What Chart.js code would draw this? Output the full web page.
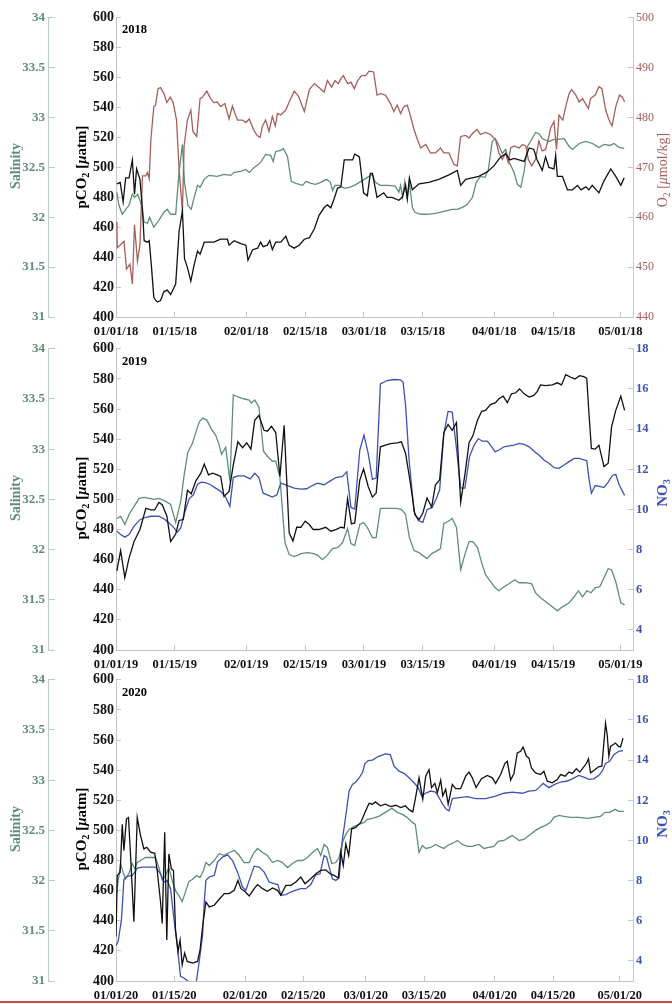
<!DOCTYPE html>
<html>
<head>
<meta charset="utf-8">
<script src="https://cdn.jsdelivr.net/npm/chart.js@4"></script>
<style>
  html, body { margin: 0; padding: 0; background: #fff; }
  body { width: 672px; height: 1004px; position: relative; overflow: hidden; font-family: "Liberation Serif", "Times New Roman", serif; }
  canvas { position: absolute; left: 0; }
  .lab { position: absolute; white-space: nowrap; transform: translate(-50%, -50%) rotate(-90deg); }
  .year { position: absolute; font-weight: bold; font-size: 12.5px; line-height: 14px; }
  sub { font-size: 0.68em; vertical-align: -0.35em; line-height: 0; }
  .rule { position: absolute; left: 0; top: 1001px; width: 672px; height: 2px; background: #c94a44; }
</style>
</head>
<body>
<canvas id="c2018" width="672" height="347" style="top:0px"></canvas>
<canvas id="c2019" width="672" height="349" style="top:331px"></canvas>
<canvas id="c2020" width="672" height="349" style="top:662px"></canvas>

<div class="year" style="left:122px; top:22px">2018</div>
<div class="year" style="left:122px; top:354px">2019</div>
<div class="year" style="left:122px; top:685px">2020</div>

<div class="lab" style="left:16px; top:166px; color:#5e8e78; font-weight:bold; font-size:14px">Salinity</div>
<div class="lab" style="left:81px; top:167px; font-weight:bold; font-size:15px">pCO<sub>2</sub> [<i>μ</i>atm]</div>
<div class="lab" style="left:663px; top:170px; color:#a65f5b; font-size:14px">O<sub>2</sub> [<i>μ</i>mol/kg]</div>

<div class="lab" style="left:16px; top:498px; color:#5e8e78; font-weight:bold; font-size:14px">Salinity</div>
<div class="lab" style="left:81px; top:498px; font-weight:bold; font-size:15px">pCO<sub>2</sub> [<i>μ</i>atm]</div>
<div class="lab" style="left:662px; top:493px; color:#3d52b3; font-weight:bold; font-size:15px">NO<sub>3</sub></div>

<div class="lab" style="left:16px; top:829px; color:#5e8e78; font-weight:bold; font-size:14px">Salinity</div>
<div class="lab" style="left:81px; top:829px; font-weight:bold; font-size:15px">pCO<sub>2</sub> [<i>μ</i>atm]</div>
<div class="lab" style="left:662px; top:824px; color:#3d52b3; font-weight:bold; font-size:15px">NO<sub>3</sub></div>

<div class="rule"></div>

<script>
// x positions are days since Jan 1 of each year
const tickDays1819 = [0, 14, 31, 45, 59, 73, 90, 104, 120];
const tickDays20 = [0, 14, 31, 45, 60, 74, 91, 105, 121];
const tickLabels18 = ['01/01/18', '01/15/18', '02/01/18', '02/15/18', '03/01/18', '03/15/18', '04/01/18', '04/15/18', '05/01/18'];
const tickLabels19 = ['01/01/19', '01/15/19', '02/01/19', '02/15/19', '03/01/19', '03/15/19', '04/01/19', '04/15/19', '05/01/19'];
const tickLabels20 = ['01/01/20', '01/15/20', '02/01/20', '02/15/20', '03/01/20', '03/15/20', '04/01/20', '04/15/20', '05/01/20'];
const no3Ticks = [4, 6, 8, 10, 12, 14, 16, 18];

// ---- 2018 ----
const pco2_2018 = [[0.2,489],[1.0,490],[1.7,477],[2.3,493],[3.1,493],[3.9,505],[4.4,482],[4.9,499],[5.7,492],[6.3,472],[6.7,451],[7.5,450],[7.9,451],[8.4,435],[9.0,413],[9.8,410],[10.6,411],[11.4,417],[12.2,418],[13.0,415],[14.2,422],[15.0,457],[15.8,471],[16.3,439],[17.0,433],[17.8,424],[18.6,435],[19.4,444],[20.0,442],[21.0,450],[22.1,450],[23.3,450],[24.9,452],[26.5,452],[26.9,448],[28.1,451],[29.7,449],[30.9,448],[31.4,438],[32.5,445],[33.7,446],[34.4,450],[35.0,447],[36.0,448],[36.6,451],[37.2,445],[38.0,450],[39.2,450],[40.4,454],[41.2,448],[42.4,446],[43.6,448],[44.8,452],[46.0,453],[47.2,459],[48.3,468],[49.5,473],[50.3,475],[51.1,473],[51.9,479],[52.7,486],[53.5,487],[54.3,505],[55.5,505],[56.3,505],[56.8,509],[57.9,507],[58.9,483],[59.8,481],[60.5,496],[61.0,496],[62.1,480],[63.7,483],[64.5,480],[65.7,480],[67.3,478],[68.1,480],[68.9,488],[69.3,479],[69.8,493],[70.5,485],[72.1,489],[74.4,490],[76.8,492],[79.2,495],[81.2,498],[82.0,488],[83.2,492],[86.3,494],[88.3,497],[89.9,501],[91.5,507],[92.7,509],[93.7,505],[94.7,506],[95.9,505],[97.1,504],[98.3,513],[99.4,512],[100.2,505],[101.4,498],[102.2,507],[103.0,500],[104.2,499],[104.6,508],[105.0,494],[106.2,494],[107.4,485],[108.6,485],[109.8,488],[110.6,485],[111.8,487],[112.5,485],[113.3,488],[114.9,483],[116.1,491],[117.7,499],[118.9,494],[120.1,488],[120.9,493]];
const o2_2018 = [[0.2,459.1],[0.3,453.9],[1.1,454.5],[1.9,455.2],[2.5,449.6],[3.3,450.6],[3.9,446.6],[4.4,458.5],[5.1,451.2],[5.7,454.5],[6.3,468.3],[7.1,468.3],[7.5,469],[7.9,467.7],[8.3,475.6],[9.0,482.2],[9.4,482.5],[10.0,485.8],[10.6,486],[11.4,484.8],[12.1,483],[12.9,484.1],[13.6,483],[14.4,479.5],[15.0,469.7],[15.8,461.1],[16.2,474.3],[17.0,479.5],[17.8,481.5],[18.3,477.2],[19.2,476.2],[20.0,483.8],[20.6,484.1],[21.6,485.3],[22.5,483.8],[23.3,483],[24.1,483.1],[24.9,482.2],[25.9,482.8],[26.9,479.7],[27.7,482.3],[28.3,480.8],[28.9,479.5],[30.1,479.5],[30.9,479],[31.7,479.7],[32.7,477.6],[33.6,476.4],[34.3,476],[34.8,478.2],[35.6,479.5],[36.4,477.2],[37.2,480.2],[37.9,478.3],[38.4,480.8],[39.2,480.5],[40.4,481.5],[41.2,483.1],[42.4,485.3],[43.4,484.3],[44.8,481.2],[46.0,485.6],[47.2,486.8],[48.3,486],[49.5,485.1],[50.3,487.4],[51.3,486.1],[52.1,487.4],[52.9,486.8],[53.5,487.8],[54.1,488.4],[55.1,486.8],[55.9,487.1],[56.7,485.8],[57.5,487.4],[58.4,488.4],[59.4,488.4],[60.2,489.3],[61.0,489.2],[61.3,489.1],[62.1,484.5],[62.9,484.8],[64.1,484.5],[65.3,482.8],[66.1,481.2],[66.9,482.5],[67.7,480.8],[68.5,482.2],[69.3,482.5],[70.1,480.2],[70.9,477.6],[71.7,475.6],[72.5,473.9],[73.7,474.6],[74.8,472.9],[76.0,472.9],[77.2,473.9],[78.0,472.9],[79.2,472.9],[80.4,470.6],[81.2,470.3],[82.0,476.2],[83.2,476.4],[84.0,475.9],[84.8,476.8],[85.9,477.6],[86.7,476.6],[87.9,477],[89.1,476.6],[90.3,475.6],[91.1,472.9],[91.9,471.6],[92.7,472.9],[93.3,471],[93.9,473.9],[94.7,474.3],[95.9,473.9],[96.7,474.6],[97.5,474.3],[98.1,471.6],[98.9,470.3],[99.8,471.6],[100.6,475.3],[101.4,473.3],[102.2,473.6],[102.9,475.9],[103.4,477.9],[104.2,479.2],[104.8,473.6],[105.4,480.5],[106.3,479.5],[107.0,482.2],[107.8,484.8],[108.4,485.6],[109.4,484.5],[110.2,483.1],[111.0,483.8],[111.7,482.8],[112.4,481.8],[112.9,483.8],[114.0,484.5],[114.9,486.2],[115.6,485.8],[116.5,481.5],[117.3,479.5],[118.0,478.3],[118.9,482.2],[119.8,484.5],[120.5,484.1],[121.0,483.1]];
const sal_2018 = [[0.2,32.25],[0.7,32.12],[1.5,32.03],[2.3,32.08],[3.1,32.12],[3.9,32.23],[4.4,32.20],[5.2,32.23],[6.0,32.13],[6.7,31.95],[7.5,31.94],[8.0,32.00],[9.0,31.90],[10.2,31.97],[11.4,32.05],[12.2,32.08],[13.0,32.03],[14.2,32.03],[15.0,32.45],[15.8,32.73],[16.3,32.35],[17.1,32.12],[17.9,32.08],[18.6,32.20],[19.4,32.32],[20.0,32.30],[21.0,32.38],[22.1,32.42],[24.1,32.41],[25.7,32.43],[27.3,32.42],[28.1,32.45],[29.7,32.46],[30.9,32.48],[31.7,32.45],[32.9,32.50],[34.4,32.55],[35.6,32.63],[36.8,32.62],[37.4,32.56],[38.0,32.66],[39.2,32.67],[39.8,32.69],[40.8,32.61],[41.7,32.36],[42.8,32.34],[44.4,32.32],[45.2,32.36],[46.4,32.34],[47.5,32.33],[48.7,32.35],[50.1,32.38],[51.0,32.35],[51.5,32.27],[52.1,32.32],[53.1,32.32],[54.3,32.29],[55.5,32.30],[56.7,32.32],[58.3,32.36],[59.8,32.40],[61.0,32.43],[61.7,32.35],[62.9,32.32],[64.9,32.32],[66.5,32.31],[67.3,32.25],[67.7,32.32],[68.2,32.20],[68.7,32.36],[69.3,32.19],[69.8,32.35],[70.5,32.10],[71.1,32.05],[72.5,32.03],[74.0,32.03],[76.0,32.04],[78.0,32.06],[80.0,32.08],[81.2,32.08],[82.4,32.10],[83.6,32.13],[84.8,32.20],[85.7,32.35],[86.7,32.41],[87.8,32.40],[88.6,32.48],[89.5,32.76],[90.2,32.79],[91.0,32.73],[91.9,32.64],[92.7,32.68],[93.5,32.56],[94.7,32.45],[95.5,32.33],[96.3,32.30],[97.1,32.46],[97.9,32.71],[98.9,32.78],[99.8,32.85],[100.6,32.84],[101.4,32.79],[103.0,32.76],[104.2,32.78],[105.4,32.78],[106.6,32.79],[107.8,32.71],[108.6,32.68],[110.2,32.74],[111.7,32.76],[113.3,32.74],[114.9,32.70],[116.1,32.73],[117.5,32.72],[118.5,32.74],[119.7,32.70],[120.9,32.69]];

// ---- 2019 ----
const pco2_2019 = [[0.2,452.5],[1.1,466],[2.1,448],[3.1,461],[4.3,472],[5.7,480],[7.1,494],[8.3,493],[9.2,493],[10.2,498],[11.0,496.5],[12.1,489],[13.0,472],[14.2,477],[15.0,486],[16.0,486.6],[17.0,506],[17.9,503.7],[19.0,512.3],[20.2,517.4],[21.0,523.5],[22.0,516.3],[23.0,517.4],[24.1,516.3],[24.9,515.2],[25.7,502],[26.9,505.3],[27.9,522.9],[29.0,538.2],[30.1,534.3],[31.1,537.6],[32.1,533.4],[33.0,552.5],[34.0,555.8],[35.2,545.9],[36.0,545.3],[37.0,548.6],[38.0,544.4],[39.0,515.2],[40.0,549.2],[41.2,477.8],[42.1,472.3],[43.0,481.5],[44.0,481.5],[45.0,485.5],[46.0,483.3],[46.9,480],[48.3,480],[49.9,481.5],[51.1,478.9],[52.3,480],[53.5,481.5],[54.3,481.1],[55.1,500.4],[56.0,483.7],[56.8,484.4],[58.0,513],[58.9,520.2],[60.0,508.6],[61.0,501.5],[61.9,504.2],[62.9,534.9],[64.1,536],[65.3,537.1],[66.9,537.6],[67.9,538.2],[68.9,530.5],[70.1,509.7],[71.1,489.9],[72.1,486.6],[73.0,491],[74.0,500.9],[75.1,494.9],[76.0,509.7],[77.0,513],[78.0,544.4],[79.0,549.7],[80.0,545.9],[81.0,551],[82.0,498.2],[83.0,516.3],[84.0,537.6],[84.9,542.2],[86.0,552.5],[87.0,558.5],[87.9,559.1],[89.1,562.9],[90.3,564.2],[91.1,566.8],[92.1,568.6],[93.1,564.2],[94.1,570.1],[95.1,570.8],[96.0,573.4],[97.1,570.1],[98.3,567.9],[99.4,569],[100.2,571.6],[101.0,576],[102.2,575.6],[103.8,576],[105.0,577.4],[106.0,576],[107.0,582.9],[108.2,581.1],[109.2,580],[110.3,582.2],[111.3,581.5],[112.0,580.4],[112.5,558],[113.1,533.8],[114.0,533.4],[114.9,536],[116.1,521.8],[117.1,524],[117.9,548.1],[118.9,559.1],[120.1,568.6],[121.0,559.1]];
const no3_2019 = [[0.2,8.92],[1.1,8.75],[2.1,8.62],[3.1,8.75],[4.3,9.17],[5.7,9.49],[7.1,9.61],[8.3,9.66],[10.2,9.66],[11.4,9.54],[12.6,9.33],[13.8,9.08],[14.6,8.87],[15.4,9.08],[16.3,9.82],[17.4,10.53],[18.4,10.73],[19.4,11.26],[20.3,11.36],[21.3,11.34],[22.5,11.23],[23.7,11.06],[24.9,10.9],[26.1,10.6],[27.1,10.15],[27.9,11.59],[29.0,11.67],[30.5,11.67],[31.9,11.52],[33.0,11.8],[34.0,11.59],[35.0,10.81],[36.0,10.73],[37.2,10.62],[38.3,10.73],[39.2,11.31],[40.8,11.19],[42.4,11.06],[44.0,11.01],[45.4,11.03],[46.7,11.19],[47.9,11.31],[49.5,11.23],[51.0,11.42],[52.3,11.59],[53.9,11.64],[54.9,11.88],[55.9,10.1],[56.8,10.02],[58.0,12.96],[59.0,13.7],[60.0,12.79],[61.0,11.5],[61.9,11.56],[62.9,16.25],[64.5,16.42],[66.1,16.47],[67.7,16.45],[68.3,16.34],[68.9,15.18],[69.7,12.54],[70.9,9.91],[71.9,9.45],[73.0,9.36],[74.0,9.99],[75.2,10.1],[76.2,10.53],[77.0,10.98],[78.0,13.78],[79.0,14.88],[80.0,14.85],[81.0,13.04],[82.0,11.06],[83.0,11.06],[84.1,12.63],[85.2,13.2],[86.2,13.53],[87.1,13.4],[88.3,13.4],[89.1,13.2],[90.2,12.87],[91.1,12.96],[92.3,13.12],[93.5,13.17],[94.7,13.2],[95.9,13.29],[97.1,13.24],[98.3,13.12],[99.4,12.91],[100.6,12.71],[101.8,12.46],[103.0,12.3],[104.2,12.08],[105.4,12.05],[106.6,12.21],[107.8,12.38],[109.0,12.54],[110.2,12.54],[112.0,12.43],[112.5,11.56],[113.1,10.81],[114.0,11.19],[115.3,11.14],[116.1,11.09],[117.1,11.36],[118.1,11.69],[118.9,11.75],[119.7,11.23],[120.5,10.9],[121.0,10.7]];
const sal_2019 = [[0.2,32.31],[1.1,32.33],[2.1,32.25],[3.1,32.35],[4.3,32.43],[5.5,32.51],[6.7,32.52],[7.9,32.51],[9.0,32.50],[10.2,32.51],[11.4,32.49],[13.0,32.45],[14.2,32.27],[15.4,32.48],[16.2,32.74],[17.1,32.97],[18.2,33.06],[19.0,33.17],[19.8,33.27],[20.6,33.31],[21.6,33.29],[22.7,33.2],[23.7,33.14],[24.5,33.05],[25.1,32.95],[26.1,33.02],[27.1,32.68],[27.9,33.54],[29.0,33.52],[30.5,33.5],[31.7,33.49],[32.2,33.46],[33.0,33.49],[34.0,33.42],[35.1,32.98],[36.0,32.93],[37.2,32.88],[38.0,32.88],[39.0,32.72],[40.2,32.07],[41.2,31.95],[42.4,31.93],[44.0,31.96],[45.6,31.97],[47.1,31.96],[48.1,31.94],[49.1,31.9],[50.2,31.94],[51.5,32.01],[52.7,32.02],[53.9,32.07],[55.1,32.21],[55.9,32.06],[56.8,32.04],[58.0,32.25],[58.9,32.27],[59.8,32.22],[61.0,32.12],[61.9,32.12],[62.9,32.41],[64.5,32.41],[66.5,32.41],[67.9,32.4],[68.9,32.35],[69.8,32.12],[70.9,31.99],[72.1,31.97],[73.0,31.94],[74.0,31.91],[75.1,31.96],[76.0,31.98],[77.2,32.01],[78.0,32.26],[79.0,32.28],[80.0,32.31],[81.0,32.22],[82.0,31.8],[83.0,31.95],[84.0,32.08],[84.9,32.08],[86.0,32.02],[87.0,31.87],[87.9,31.75],[89.1,31.68],[90.2,31.62],[91.1,31.59],[92.3,31.63],[93.5,31.66],[94.9,31.7],[95.9,31.67],[97.5,31.67],[98.9,31.66],[99.8,31.57],[101.0,31.52],[102.6,31.47],[103.8,31.43],[105.0,31.39],[106.2,31.43],[107.8,31.47],[109.0,31.53],[110.0,31.59],[111.0,31.53],[112.0,31.59],[113.0,31.57],[114.0,31.62],[115.1,31.63],[116.1,31.72],[117.1,31.81],[117.9,31.8],[118.9,31.68],[120.1,31.47],[121.0,31.45]];

// ---- 2020 ----
const pco2_2020 = [[0,429.5],[0.3,470],[1.0,472],[1.5,504],[1.9,486.6],[2.5,507.5],[3.0,508.6],[3.5,483.3],[4.3,439.3],[5.1,508.6],[5.9,496.5],[6.7,487.7],[7.4,488.8],[8.3,485.5],[9.3,484.8],[9.9,473.4],[10.7,452.5],[11.1,438.2],[11.7,498.7],[12.2,427.3],[12.7,484.4],[13.3,474.5],[13.8,473.4],[14.3,433.8],[14.9,419.6],[15.4,427.3],[15.9,410.8],[16.5,418.5],[17.1,413],[18.4,411.9],[19.6,413],[20.2,420.7],[20.8,436],[21.6,452.5],[22.4,449.2],[23.6,450.3],[24.8,454.3],[26.0,458],[27.2,458],[28.4,460.2],[29.3,466.8],[30.0,461.3],[30.9,459.6],[32.0,456.5],[33.2,461.3],[34.0,464],[35.2,461.3],[36.4,459.6],[37.6,461.8],[38.8,460.2],[39.6,456.9],[40.8,463.5],[42.0,463.5],[43.2,465.7],[44.4,469],[45.4,464.6],[46.8,467.9],[48.0,471.2],[49.2,473.4],[50.4,473.8],[51.4,471.2],[52.4,470.1],[53.4,468.4],[54.0,485.5],[54.6,476.7],[55.2,491],[55.9,483.3],[56.6,500.9],[57.6,502],[58.8,505.3],[59.8,511.9],[60.8,518],[61.6,517.4],[62.3,518.9],[63.5,516.3],[64.7,517.4],[66.0,515.8],[67.2,516.7],[68.4,515.2],[69.5,516.3],[70.5,513.6],[71.3,512.3],[71.9,520.7],[72.8,534.9],[73.7,520.7],[74.4,536],[75.2,540.4],[75.8,528.4],[76.6,531.2],[77.2,525.1],[78.0,533.4],[78.5,522.9],[79.2,527.3],[79.8,517.4],[80.8,530.5],[81.6,527.7],[82.8,527.7],[84.0,536],[84.8,538.7],[85.6,534.9],[86.5,528.4],[87.8,534.3],[89.2,536.5],[90.4,534.9],[91.2,531.2],[92.4,537.1],[93.4,544.4],[94.0,545.9],[94.8,533.4],[95.6,537.8],[96.4,551.4],[97.2,552.5],[97.8,555.4],[98.6,549.2],[99.2,548.1],[99.8,541.5],[100.8,538.2],[102.0,537.1],[102.8,539.3],[103.6,532.7],[104.8,531.6],[106.0,533.8],[106.8,537.1],[107.9,536],[108.8,538.7],[109.6,537.8],[110.6,540.9],[111.4,538.7],[112.2,541.5],[113.0,544.4],[113.5,547.5],[114.0,538.2],[114.8,539.8],[115.9,542.2],[116.7,542.6],[117.0,551.4],[117.6,571.2],[118.0,563.5],[118.4,549.2],[118.8,555.8],[119.4,556.9],[120.0,558],[120.7,555.8],[121.2,555.4],[121.8,561.3]];
const no3_2020 = [[0,4.76],[0.5,4.96],[1.3,6.03],[1.9,8.06],[2.7,8.21],[3.9,8.26],[4.5,8.42],[5.1,8.62],[6.3,8.67],[7.9,8.67],[9.5,8.67],[10.7,8.34],[11.5,7.93],[12.3,8.01],[13.1,7.6],[13.9,6.12],[14.7,4.8],[15.5,3.23],[16.3,3.15],[17.1,3.02],[17.9,2.9],[19.2,2.82],[20.0,3.97],[20.8,5.29],[21.2,6.94],[21.6,8.01],[22.4,8.18],[23.6,8.26],[24.4,8.92],[25.6,9.17],[26.8,9.28],[28.0,9.0],[29.2,8.42],[30.4,7.68],[31.2,7.52],[32.0,8.01],[33.2,8.72],[34.4,8.67],[35.6,8.42],[36.8,7.93],[38.0,7.85],[38.9,7.8],[39.6,7.27],[40.8,7.3],[42.0,7.43],[43.2,7.52],[44.4,7.6],[45.6,7.6],[46.8,7.8],[48.0,8.29],[49.0,8.34],[50.0,9.25],[50.6,9.17],[51.2,8.67],[52.0,8.09],[52.8,8.01],[53.6,8.13],[54.4,10.07],[55.2,11.23],[56.0,12.46],[56.8,12.79],[57.6,12.91],[58.4,13.12],[59.2,13.37],[59.8,13.83],[60.6,13.98],[61.6,14.0],[63.1,14.19],[64.7,14.31],[65.9,14.27],[66.8,13.7],[68.0,13.45],[69.2,13.34],[70.4,13.12],[71.6,12.87],[72.6,12.63],[73.4,12.21],[74.4,12.35],[75.6,12.46],[76.8,12.41],[77.6,12.13],[78.5,11.8],[79.3,11.56],[80.0,11.47],[80.8,12.08],[82.4,12.13],[84.4,12.18],[86.4,12.08],[88.8,12.08],[91.2,12.21],[93.2,12.35],[95.2,12.41],[97.6,12.35],[99.2,12.46],[100.8,12.49],[101.6,12.63],[102.6,12.84],[104.0,12.63],[105.4,12.79],[106.8,12.91],[108.4,12.96],[109.6,13.07],[111.2,13.24],[112.4,13.15],[113.6,13.04],[114.8,13.07],[116.0,13.24],[116.8,13.45],[117.6,13.83],[118.6,13.94],[119.6,14.27],[120.8,14.44],[121.8,14.47]];
const sal_2020 = [[0,31.84],[0.5,31.99],[1.1,32.17],[1.8,32.07],[2.3,32.02],[3.1,32.07],[3.9,32.17],[4.5,32.12],[5.1,32.18],[5.9,32.2],[7.1,32.23],[8.3,32.23],[9.5,32.23],[10.3,32.13],[11.1,32.01],[11.9,32.05],[12.7,32.13],[13.5,32.0],[14.3,31.9],[15.1,31.85],[15.9,31.79],[16.7,31.89],[17.5,31.99],[18.3,32.01],[19.4,32.05],[20.2,32.03],[21.0,32.1],[21.6,32.18],[22.4,32.15],[23.6,32.2],[24.8,32.27],[26.0,32.25],[27.2,32.28],[28.5,32.3],[29.6,32.25],[30.8,32.18],[32.0,32.18],[33.0,32.27],[34.0,32.32],[35.2,32.28],[36.4,32.25],[37.6,32.18],[38.8,32.2],[40.0,32.18],[41.2,32.13],[42.4,32.17],[43.6,32.2],[44.8,32.2],[46.0,32.23],[47.2,32.28],[48.4,32.32],[49.2,32.25],[50.0,32.36],[50.8,32.33],[51.8,32.17],[52.8,32.18],[53.6,32.23],[54.4,32.38],[55.2,32.46],[56.0,32.51],[57.2,32.54],[58.4,32.56],[59.6,32.58],[60.4,32.61],[61.6,32.62],[63.1,32.64],[64.7,32.68],[66.3,32.72],[67.6,32.68],[68.8,32.66],[69.9,32.63],[71.2,32.58],[71.9,32.56],[72.8,32.28],[73.6,32.35],[74.4,32.32],[75.6,32.33],[76.8,32.36],[77.6,32.34],[78.8,32.32],[79.6,32.35],[80.8,32.37],[82.0,32.4],[83.2,32.36],[84.4,32.34],[85.6,32.34],[87.2,32.36],[88.4,32.32],[89.6,32.33],[90.8,32.34],[91.8,32.39],[93.2,32.4],[94.4,32.43],[95.2,32.45],[96.8,32.4],[98.0,32.41],[99.2,32.45],[100.8,32.5],[102.0,32.53],[103.2,32.55],[104.4,32.58],[105.2,32.63],[106.4,32.65],[107.6,32.64],[109.2,32.63],[111.2,32.63],[113.2,32.62],[114.8,32.63],[116.4,32.64],[117.5,32.68],[118.6,32.68],[119.9,32.71],[120.8,32.69],[122.0,32.69]];

const SAL_COLOR = '#5e8e78';
const O2_COLOR = '#a65f5b';
const NO3_COLOR = '#3d52b3';
const serif = '"Liberation Serif", "Times New Roman", serif';

function pts(arr) {
  return arr.map(([x, y]) => ({ x, y }));
}

function line(data, color, axis) {
  return {
    data: pts(data), borderColor: color, borderWidth: 1.3,
    pointRadius: 0, tension: 0, yAxisID: axis, fill: false
  };
}

function makePanel(id, opts) {
  const scales = {
    x: {
      type: 'linear', min: 0, max: opts.xMax,
      afterBuildTicks: s => { s.ticks = opts.tickDays.map(v => ({ value: v })); },
      afterFit: s => { s.height = 30; },
      grid: { drawOnChartArea: false, tickLength: -5, color: '#c4c4c4' },
      border: { color: '#c4c4c4' },
      ticks: {
        autoSkip: false, maxRotation: 0, padding: 12, color: '#111',
        font: { family: serif, size: 12.5, weight: 'bold' },
        callback: (v, i) => opts.tickLabels[i]
      }
    },
    ySal: {
      position: 'left', weight: 1, min: 31, max: 34,
      afterFit: s => { s.width = 48; },
      grid: { drawOnChartArea: false, tickLength: -7, color: '#bccdc4' },
      border: { color: '#bccdc4' },
      ticks: { stepSize: 0.5, padding: 10, color: SAL_COLOR, font: { family: serif, size: 13, weight: 'bold' }, callback: v => String(v) }
    },
    yCO2: {
      position: 'left', weight: 0, min: 400, max: 600,
      afterFit: s => { s.width = 68; },
      grid: { drawOnChartArea: false, tickLength: -5, color: '#c4c4c4' },
      border: { color: '#c4c4c4' },
      ticks: { stepSize: 20, padding: 7, color: '#111', font: { family: serif, size: 14, weight: 'bold' } }
    }
  };
  if (opts.o2) {
    scales.yR = {
      position: 'right', min: 440, max: 500,
      afterFit: s => { s.width = 39; },
      grid: { drawOnChartArea: false, tickLength: -5, color: '#dcc3c2' },
      border: { color: '#dcc3c2' },
      ticks: { stepSize: 10, padding: 8, color: O2_COLOR, font: { family: serif, size: 12 } }
    };
  } else {
    scales.yR = {
      position: 'right', min: 3, max: 18,
      afterBuildTicks: s => { s.ticks = no3Ticks.map(v => ({ value: v })); },
      afterFit: s => { s.width = 39; },
      grid: { drawOnChartArea: false, tickLength: -5, color: '#c3c7e6' },
      border: { color: '#c3c7e6' },
      ticks: { padding: 8, color: NO3_COLOR, font: { family: serif, size: 12.5, weight: 'bold' } }
    };
  }

  new Chart(document.getElementById(id), {
    type: 'line',
    data: {
      datasets: [
        line(opts.pco2, '#111111', 'yCO2'),
        line(opts.right, opts.o2 ? O2_COLOR : NO3_COLOR, 'yR'),
        line(opts.sal, SAL_COLOR, 'ySal')
      ]
    },
    options: {
      responsive: false, animation: false, devicePixelRatio: 1,
      layout: { padding: { top: 15, left: 0, right: 0, bottom: 0 } },
      plugins: { legend: { display: false }, tooltip: { enabled: false } },
      scales
    }
  });
}

makePanel('c2018', { xMax: 123, tickDays: tickDays1819, tickLabels: tickLabels18, pco2: pco2_2018, right: o2_2018, sal: sal_2018, o2: true });
makePanel('c2019', { xMax: 123, tickDays: tickDays1819, tickLabels: tickLabels19, pco2: pco2_2019, right: no3_2019, sal: sal_2019, o2: false });
makePanel('c2020', { xMax: 124.2, tickDays: tickDays20, tickLabels: tickLabels20, pco2: pco2_2020, right: no3_2020, sal: sal_2020, o2: false });
</script>
</body>
</html>
